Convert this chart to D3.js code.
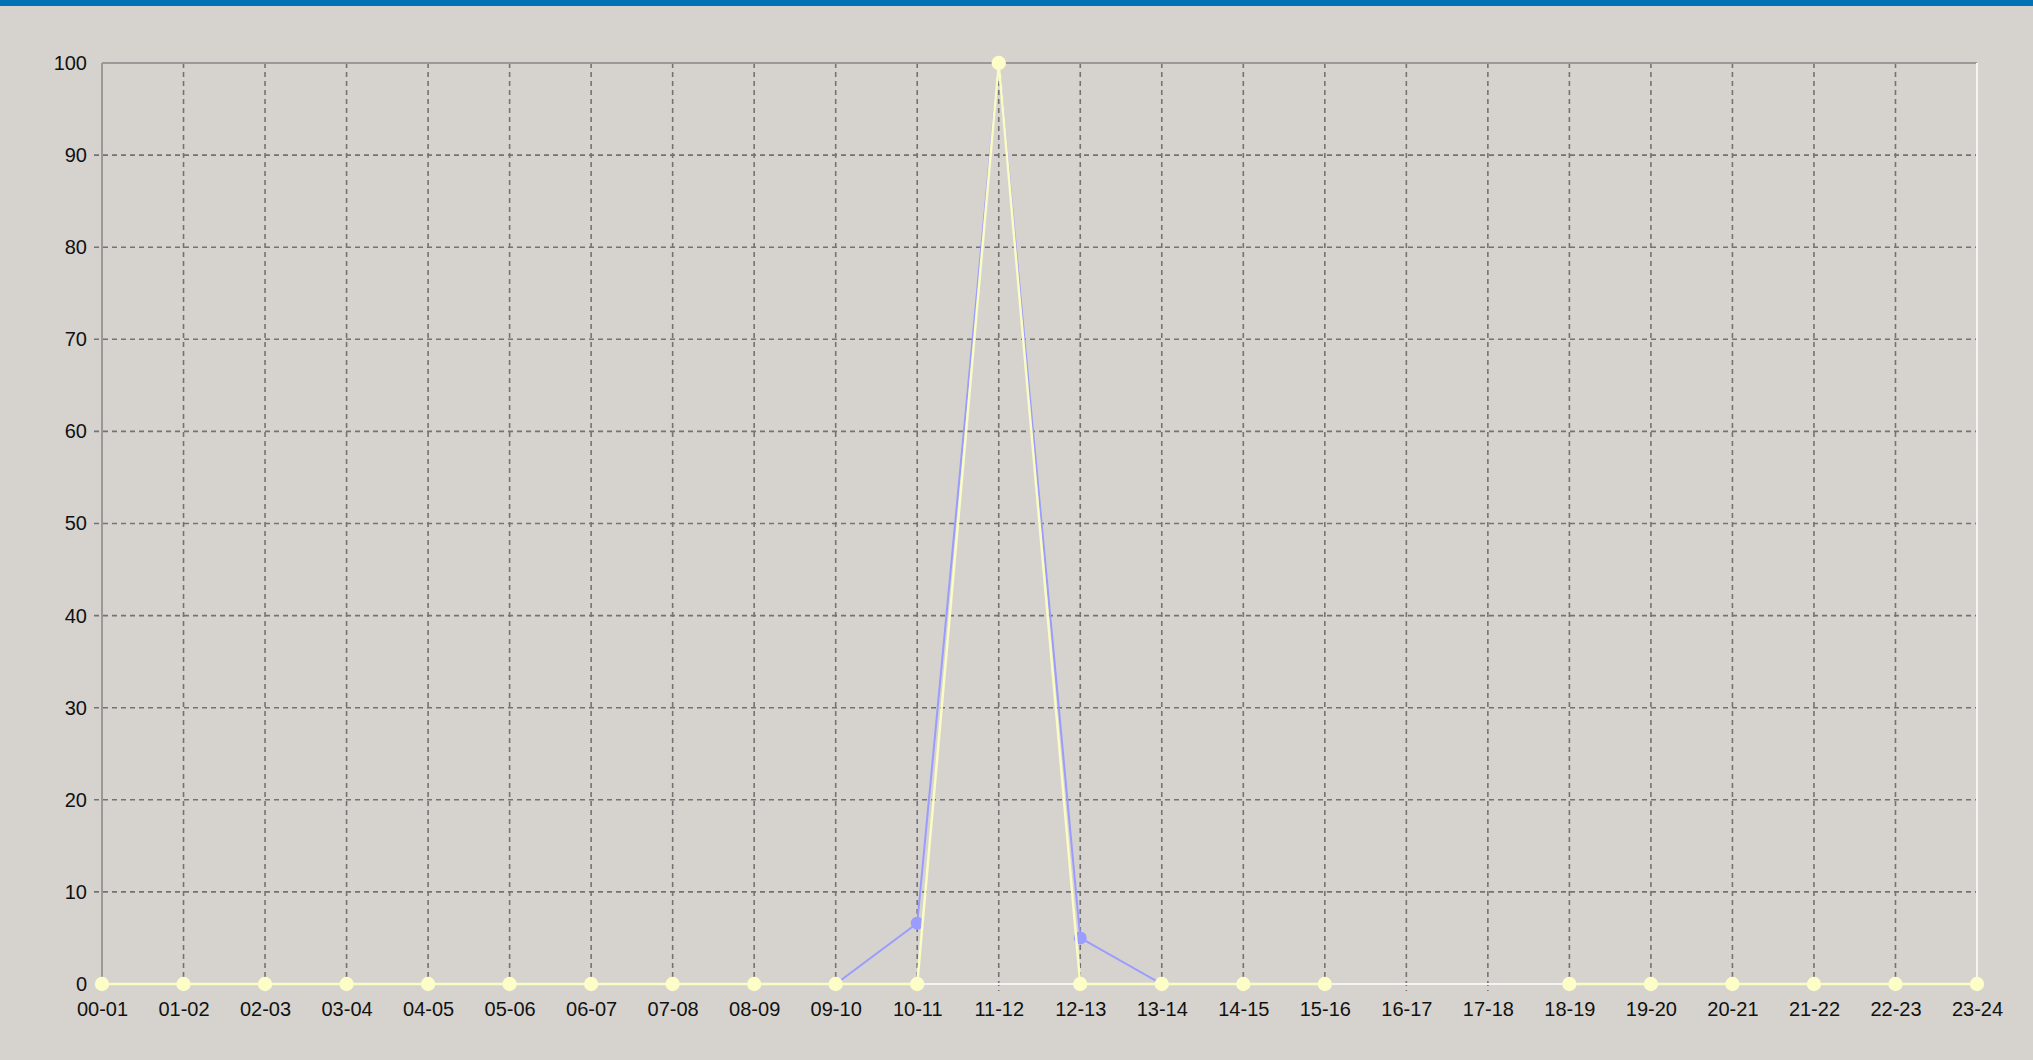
<!DOCTYPE html>
<html>
<head>
<meta charset="utf-8">
<script src="https://cdn.jsdelivr.net/npm/d3@7"></script>
<style>
  body { margin:0; background:#d6d3ce; overflow:hidden; }
  .axis text { font-family: "Liberation Sans", Arial, sans-serif; font-size:20px; fill:#111; }
  .axis path, .axis line { display:none; }
</style>
</head>
<body>
<script>
var hours = ['00-01','01-02','02-03','03-04','04-05','05-06','06-07','07-08','08-09','09-10','10-11','11-12',
             '12-13','13-14','14-15','15-16','16-17','17-18','18-19','19-20','20-21','21-22','22-23','23-24'];

// blue series (drawn underneath)
var seriesBlue = [0,0,0,0,0,0,0,0,0,0,6.6,100,5,0,0,0,null,null,0,0,0,0,0,0];
// yellow series (drawn on top)
var seriesYellow = [0,0,0,0,0,0,0,0,0,0,0,100,0,0,0,0,null,null,0,0,0,0,0,0];

var yTicks = [0,10,20,30,40,50,60,70,80,90,100];

var W = 2033, H = 1060;
var margin = {left:102, top:63, right:56, bottom:76};
var width = W - margin.left - margin.right;
var height = H - margin.top - margin.bottom;

var svg = d3.select("body").append("svg").attr("width", W).attr("height", H);

svg.append("rect").attr("width", W).attr("height", 6).attr("fill", "#0071b3");

var x = d3.scalePoint().domain(hours).range([0, width]);
var y = d3.scaleLinear().domain([0, 100]).range([height, 0]);

var g = svg.append("g").attr("transform", "translate(" + margin.left + "," + margin.top + ")");

// grid
g.selectAll(".hgrid").data(yTicks.filter(function(d){ return d > 0 && d < 100; })).enter()
  .append("line")
  .attr("x1", -8).attr("x2", width)
  .attr("y1", function(d){ return y(d); }).attr("y2", function(d){ return y(d); })
  .attr("stroke", "#737373").attr("stroke-width", 1.6).attr("stroke-dasharray", "5,4");

g.selectAll(".vgrid").data(hours.slice(1, -1)).enter()
  .append("line")
  .attr("x1", function(d){ return x(d); }).attr("x2", function(d){ return x(d); })
  .attr("y1", 0).attr("y2", height + 7)
  .attr("stroke", "#737373").attr("stroke-width", 1.6).attr("stroke-dasharray", "5,4");

// frame
g.append("line").attr("x1", 0).attr("x2", width).attr("y1", 0).attr("y2", 0).attr("stroke", "#999").attr("stroke-width", 2);
g.append("line").attr("x1", 0).attr("x2", 0).attr("y1", 0).attr("y2", height).attr("stroke", "#999").attr("stroke-width", 2);
g.append("line").attr("x1", width).attr("x2", width).attr("y1", 0).attr("y2", height).attr("stroke", "#f4f4f4").attr("stroke-width", 2);
g.append("line").attr("x1", 0).attr("x2", width).attr("y1", height).attr("y2", height).attr("stroke", "#f4f4f4").attr("stroke-width", 2);

// axes (labels only)
g.append("g").attr("class", "axis y")
  .call(d3.axisLeft(y).tickValues(yTicks).tickSize(0).tickPadding(15));
g.append("g").attr("class", "axis x")
  .attr("transform", "translate(0," + height + ")")
  .call(d3.axisBottom(x).tickSize(0).tickPadding(18));

var line = d3.line()
  .defined(function(d){ return d !== null; })
  .x(function(d, i){ return x(hours[i]); })
  .y(function(d){ return y(d); });

g.append("path").attr("d", line(seriesBlue))
  .attr("fill", "none").attr("stroke", "#9a9cff").attr("stroke-width", 2);
g.selectAll(".mb").data(seriesBlue.map(function(v, i){ return {v:v, i:i}; }).filter(function(d){ return d.v !== null; }))
  .enter().append("circle")
  .attr("cx", function(d){ return x(hours[d.i]); })
  .attr("cy", function(d){ return y(d.v); })
  .attr("r", 6.5).attr("fill", "#9a9cff");

g.append("path").attr("d", line(seriesYellow))
  .attr("fill", "none").attr("stroke", "#fbfbc4").attr("stroke-width", 2.5);
g.selectAll(".my").data(seriesYellow.map(function(v, i){ return {v:v, i:i}; }).filter(function(d){ return d.v !== null; }))
  .enter().append("circle")
  .attr("cx", function(d){ return x(hours[d.i]); })
  .attr("cy", function(d){ return y(d.v); })
  .attr("r", 7.2).attr("fill", "#fdfdc8");
</script>
</body>
</html>
